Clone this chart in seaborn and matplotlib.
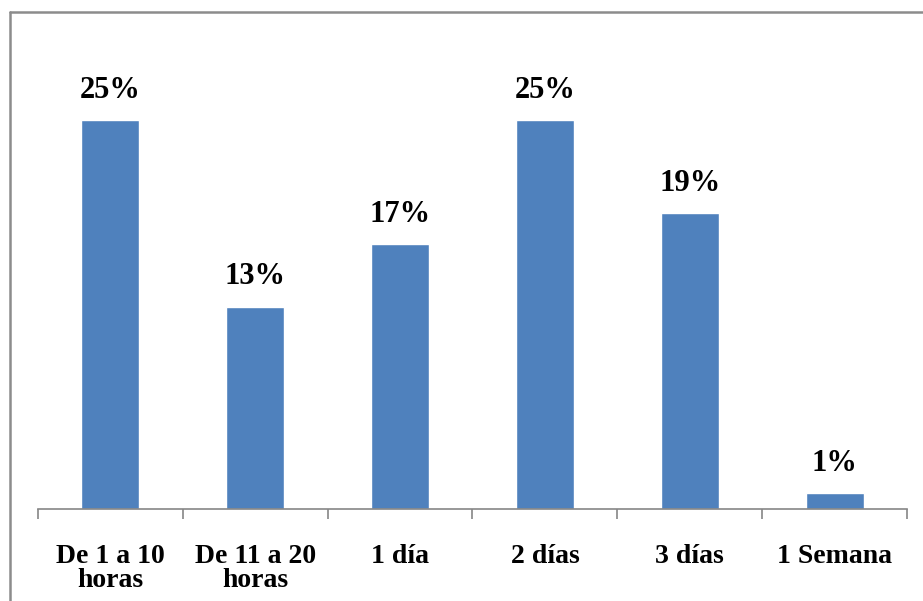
import matplotlib
matplotlib.use("Agg")
import matplotlib.pyplot as plt
from matplotlib.lines import Line2D
import seaborn as sns
import pandas as pd

# Chart values
categories = ["De 1 a 10\nhoras", "De 11 a 20\nhoras", "1 día", "2 días", "3 días", "1 Semana"]
percent = [25, 13, 17, 25, 19, 1]

sns.set_style("white")
plt.rcParams['font.family'] = ['Liberation Serif', 'DejaVu Serif']

df = pd.DataFrame({'cat': categories, 'pct': percent})

W, H = 923, 601
fig = plt.figure(figsize=(W / 100, H / 100), dpi=100)
ax = fig.add_axes([38 / W, (H - 509) / H, (907 - 38) / W, (509 - 42) / H])

sns.barplot(data=df, x='cat', y='pct', color='#4F81BD', width=0.4,
            saturation=1, ax=ax)

# value labels above bars
for i, v in enumerate(percent):
    ax.annotate(f'{v}%', (i, v), xytext=(0, 11), textcoords='offset points',
                ha='center', va='bottom', fontsize=22, fontweight='bold', color='black')

ax.set_ylim(0, 30)
ax.set_xlim(-0.5, len(categories) - 0.5)
ax.set_xlabel('')
ax.set_ylabel('')
ax.set_yticks([])
for s in ['top', 'right', 'left']:
    ax.spines[s].set_visible(False)
ax.spines['bottom'].set_color('#868686')
ax.spines['bottom'].set_linewidth(1.2)

# ticks between categories
ax.set_xticks([x - 0.5 for x in range(len(categories) + 1)], minor=True)
ax.tick_params(axis='x', which='both', bottom=True)
ax.tick_params(axis='x', which='minor', length=7, color='#868686', width=1.2, direction='out')
ax.tick_params(axis='x', which='major', length=0, pad=25)
for lbl in ax.get_xticklabels():
    lbl.set_fontsize(20)
    lbl.set_fontweight('bold')
    lbl.set_color('black')
    lbl.set_linespacing(0.95)
    lbl.set_va('top')

# outer frame (left and top edges visible)
fig.add_artist(Line2D([9.5 / W, 9.5 / W], [0, (H - 12) / H], color='#8c8c8c', lw=1.8,
                      transform=fig.transFigure))
fig.add_artist(Line2D([9.5 / W, 1], [(H - 12) / H, (H - 12) / H], color='#8c8c8c', lw=1.8,
                      transform=fig.transFigure))

fig.savefig('out.png', dpi=100)
